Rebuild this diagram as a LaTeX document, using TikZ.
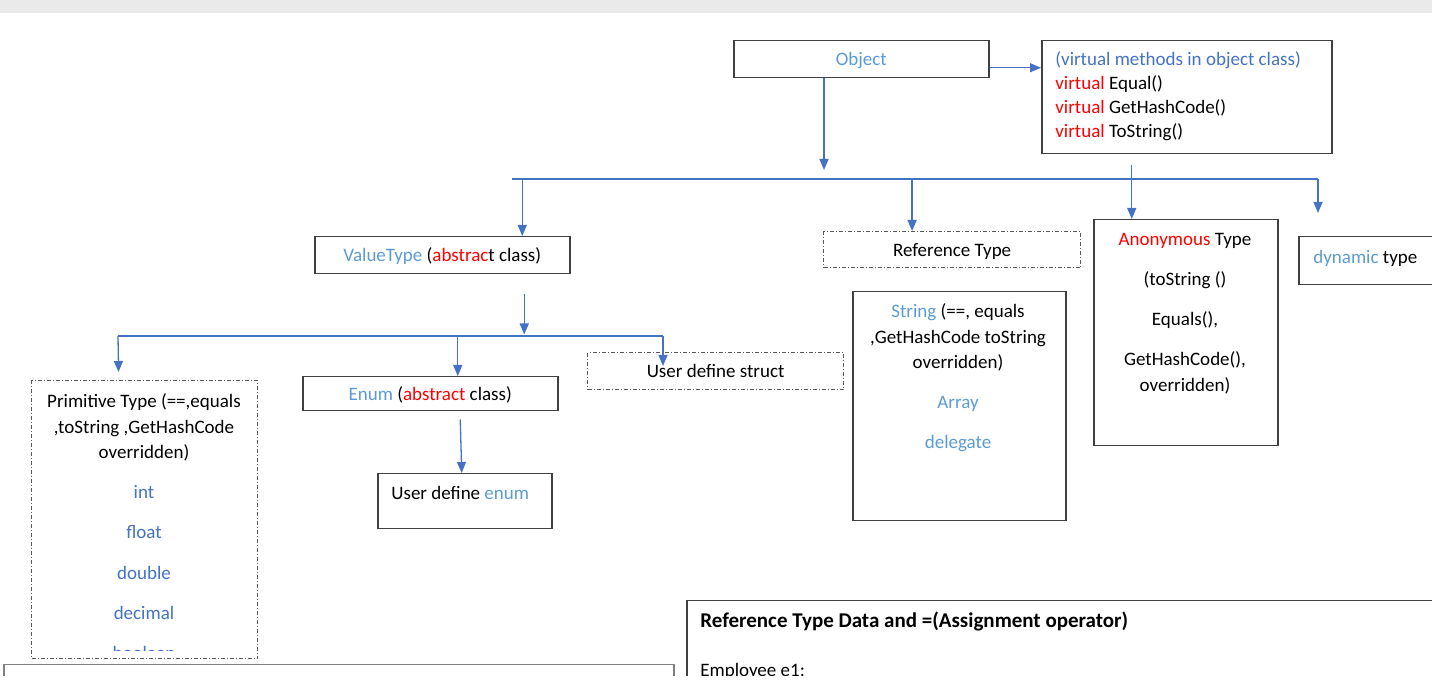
\documentclass[tikz,border=0pt]{standalone}
\usepackage{fontspec}
\setmainfont{Carlito}
\usetikzlibrary{arrows.meta,positioning}
\definecolor{msblue}{HTML}{4472C4}
\definecolor{lightblue}{HTML}{5B9BD5}
\definecolor{msred}{HTML}{FF0000}
\definecolor{boxgray}{HTML}{404040}
\definecolor{dotgray}{HTML}{595959}
\definecolor{bandgray}{HTML}{EAEAEA}

\begin{document}
\begin{tikzpicture}[x=0.5pt,y=-0.5pt,
  font=\fontsize{9.5}{12.75}\selectfont,
  box/.style={draw=boxgray, line width=0.75pt, inner sep=0pt, anchor=north west, text height=7.8pt, text depth=1.2pt},
  dotbox/.style={box, draw=dotgray, line width=0.6pt, dash pattern=on 2pt off 1pt on 0.5pt off 1pt},
  txt/.style={inner sep=0pt, text height=7.8pt, text depth=1.2pt},
  lines/.style={inner sep=0pt, align=center, anchor=north},
  link/.style={draw=msblue, line width=0.65pt, -{Triangle[length=5.5pt,width=4.5pt]}},
  busline/.style={draw=msblue, line width=0.65pt}]
\useasboundingbox (0,0) rectangle (1432,683);
\clip (0,0) rectangle (1432,676);
% page band at the top
\fill[bandgray] (0,0) rectangle (1432,13);

% Object and its virtual methods
\node[box, minimum width=127.5pt, minimum height=18.5pt, text=lightblue] (obj) at (733,40) {Object};
\node[box, minimum width=145pt, minimum height=56.5pt] (virt) at (1041,40) {};
\node[anchor=north west, inner sep=0pt, align=left, font=\fontsize{9.5}{12}\selectfont] (virttxt) at (1055,51.5)
  {\textcolor{msblue}{(virtual methods in object class)}\\\textcolor{msred}{virtual} Equal()\\\textcolor{msred}{virtual} GetHashCode()\\\textcolor{msred}{virtual} ToString()};

% second level
\node[box, minimum width=127.5pt, minimum height=18.5pt] (vt) at (314,236)
  {\textcolor{lightblue}{ValueType} (\textcolor{msred}{abstrac}t class)};
\node[dotbox, minimum width=128.5pt, minimum height=18pt] (reftype) at (823,231) {Reference Type};
\node[box, minimum width=92pt, minimum height=113pt] (anon) at (1093,219) {};
\node[lines] (anontxt) at (1185,233)
  {\textcolor{msred}{Anonymous} Type\\[7.25pt](toString ()\\[7.25pt]Equals(),\\[7.25pt]GetHashCode(),\\overridden)};
\node[box, minimum width=75pt, minimum height=24pt] (dyn) at (1298,236) {};
\node[txt, anchor=west] (dyntxt) at (1313,257) {\textcolor{lightblue}{dynamic} type};

% reference types
\node[box, minimum width=106.5pt, minimum height=114.5pt] (strbox) at (852,291) {};
\node[lines] (strtxt) at (958,303.5)
  {\textcolor{lightblue}{String} (==, equals\\,GetHashCode toString\\overridden)\\[7.25pt]\textcolor{lightblue}{Array}\\[7.25pt]\textcolor{lightblue}{delegate}};

% value types
\node[dotbox, minimum width=113pt, minimum height=139pt] (prim) at (31,380) {};
\node[lines] (primtxt) at (144,393.5) {Primitive Type (==,equals\\,toString ,GetHashCode\\overridden)};
\begin{scope}
  \clip (31,380) rectangle (257,651);
  \foreach \item/\ypos in {int/492, float/532, double/573, decimal/613, boolean/653}
    \node[txt, text=msblue] (p\item) at (144,\ypos) {\item};
\end{scope}
\node[box, minimum width=127.5pt, minimum height=17pt] (enum) at (302,376)
  {\textcolor{lightblue}{Enum} (\textcolor{msred}{abstract} class)};
\node[box, minimum width=87pt, minimum height=27.5pt] (uenum) at (377,473) {};
\node[txt, anchor=west] (uenumtxt) at (391,493) {User define \textcolor{lightblue}{enum}};
\node[dotbox, minimum width=128pt, minimum height=18.5pt] (struct) at (587,352) {User define struct};

% boxes cut off at the bottom
\node[box, minimum width=400pt, minimum height=60pt] (rtdata) at (686,600) {};
\node[txt, anchor=west, font=\fontsize{10.5}{12.75}\selectfont] (rttitle) at (700,621) {\textbf{Reference Type Data and =(Assignment operator)}};
\node[txt, anchor=west] (rtline) at (700,670) {Employee e1;};
\node[box, draw=gray, minimum width=335pt, minimum height=30pt] (lowbox) at (3,664) {};

% connectors
\draw[link] ([yshift=-4.25pt]obj.east) -- ([yshift=-4.25pt]obj.east -| virt.west);
\coordinate (objtip) at (824,170);
\draw[link] (obj.south -| objtip) -- (objtip);
\coordinate (busL) at (512,179);
\coordinate (busR) at (1318,179);
\draw[busline] (busL) -- (busR);
\draw[link] ([xshift=40pt]vt.north |- busL) -- ([xshift=40pt]vt.north);
\draw[link] ([xshift=-20pt]reftype.north |- busL) -- ([xshift=-20pt]reftype.north);
\draw[link] ([xshift=-27pt,yshift=27pt]anon.north) -- ([xshift=-27pt]anon.north);
\coordinate (dyntip) at (1318,213);
\draw[link] (busR) -- (dyntip);

\draw[link] ([xshift=41pt,yshift=-10pt]vt.south) -- ([xshift=41pt,yshift=-30pt]vt.south);
\coordinate (bus2L) at (118,336);
\coordinate (bus2R) at (663,336);
\draw[busline] (bus2L) -- (bus2R);
\draw[link] (bus2L) -- ([xshift=-13pt,yshift=4pt]prim.north);
\draw[link] ([xshift=13.75pt]enum.north |- bus2L) -- ([xshift=13.75pt]enum.north);
\coordinate (structtip) at (663,366);
\draw[link] (bus2R) -- (structtip);
\draw[link] ([xshift=15pt,yshift=-4pt]enum.south) -- ([xshift=-1.5pt]uenum.north);
\end{tikzpicture}
\end{document}
